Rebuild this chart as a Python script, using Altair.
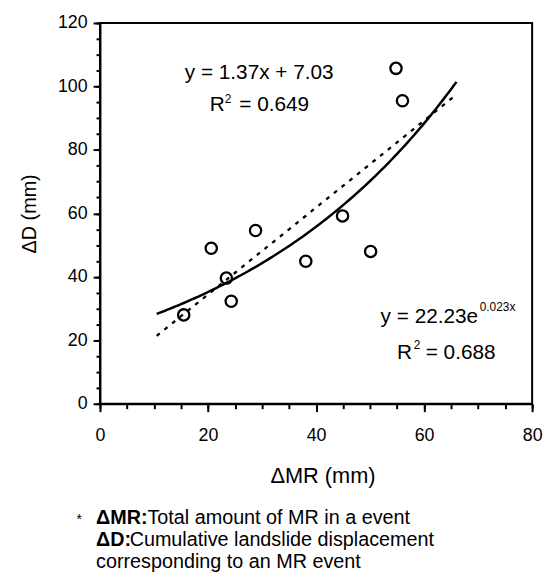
import altair as alt
import pandas as pd

# ---- data ----
MR = [15.5, 20.6, 23.4, 24.3, 28.8, 38.1, 44.9, 50.1, 54.8, 56.0]
D = [28.0, 49.0, 39.6, 32.3, 54.6, 44.9, 59.2, 48.0, 105.7, 95.5]

LIN_SLOPE, LIN_INTERCEPT = 1.37, 7.03
EXP_A, EXP_B = 22.23, 0.023
FIT_START, FIT_END = 10.5, 66.2

X_MAJOR = [0, 20, 40, 60, 80]
X_MINOR = list(range(0, 81, 5))
Y_MAJOR = [0, 20, 40, 60, 80, 100, 120]
Y_MINOR = list(range(0, 121, 5))

ANN_TEXT = ["y = 1.37x + 7.03", "R", "= 0.649", "R", "= 0.688"]
ANN_X = [15.7, 20.3, 25.8, 55.0, 60.3]
ANN_Y = [102.5, 92.2, 92.2, 14.0, 14.0]

EXP_EQ_TEXT = ["y = 22.23e"]
EXP_EQ_X = [70.0]
EXP_EQ_Y = [25.5]

SUP_TEXT = ["2", "0.023x", "2"]
SUP_X = [23.1, 70.3, 58.1]
SUP_Y = [94.9, 29.1, 17.1]

FOOT_BOLD = ["\u0394MR:", "\u0394D:"]
FOOT_BOLD_X = [-4, -4]
FOOT_BOLD_Y = [507, 529]
FOOT_TEXT = ["Total amount of MR in a event", "Cumulative landslide displacement",
             "corresponding to an MR event"]
FOOT_X = [48, 30, -4]
FOOT_Y = [507, 529, 551]

FONT = "Liberation Sans"

pts = pd.DataFrame({"MR": MR, "D": D})
ann = pd.DataFrame({"t": ANN_TEXT, "x": ANN_X, "y": ANN_Y})
eq = pd.DataFrame({"t": EXP_EQ_TEXT, "x": EXP_EQ_X, "y": EXP_EQ_Y})
sup = pd.DataFrame({"t": SUP_TEXT, "x": SUP_X, "y": SUP_Y})
fb = pd.DataFrame({"t": FOOT_BOLD, "x": FOOT_BOLD_X, "y": FOOT_BOLD_Y})
fn = pd.DataFrame({"t": FOOT_TEXT, "x": FOOT_X, "y": FOOT_Y})
star = pd.DataFrame({"t": ["*"], "x": [-21], "y": [507]})

xscale = alt.Scale(domain=[0, 80], nice=False, zero=False)
yscale = alt.Scale(domain=[0, 120], nice=False, zero=False)

common = dict(tickWidth=2, tickColor="black", domainColor="black", domainWidth=2,
              labelFont=FONT, labelFontSize=18, labelColor="black",
              labelFlush=False, labelOverlap=False, grid=False)

xaxis = alt.Axis(
    values=X_MAJOR, tickSize=8, labelPadding=15, orient="bottom",
    title="\u0394MR (mm)", titleFont=FONT, titleFontSize=22, titleFontWeight="normal",
    titleColor="black", titlePadding=22, titleX=225, **common,
)
yaxis = alt.Axis(
    values=Y_MAJOR, tickSize=7, labelPadding=6, orient="left",
    title="\u0394D (mm)", titleFont=FONT, titleFontSize=20, titleFontWeight="normal",
    titleColor="black", titlePadding=18, **common,
)
xminor = alt.Axis(values=X_MINOR, tickSize=5, labels=False, title=None, domain=False,
                  orient="bottom", tickWidth=2, tickColor="black", grid=False)
yminor = alt.Axis(values=Y_MINOR, tickSize=4, labels=False, title=None, domain=False,
                  orient="left", tickWidth=2, tickColor="black", grid=False)

minor = alt.Chart(pts).mark_point(opacity=0).encode(
    x=alt.X("MR:Q", scale=xscale, axis=xminor), y=alt.Y("D:Q", scale=yscale, axis=yminor)
)

base_pts = alt.Chart(pts).mark_point(
    shape="circle", filled=False, size=130, strokeWidth=2.3, color="black", opacity=1
).encode(x=alt.X("MR:Q", scale=xscale, axis=xaxis), y=alt.Y("D:Q", scale=yscale, axis=yaxis))

lin = alt.Chart(alt.sequence(FIT_START, FIT_END, 0.5, as_="x")).transform_calculate(
    y=f"{LIN_SLOPE} * datum.x + {LIN_INTERCEPT}"
).mark_line(color="black", strokeWidth=2.3, strokeDash=[4, 6]).encode(
    x=alt.X("x:Q", scale=xscale, axis=None), y=alt.Y("y:Q", scale=yscale, axis=None)
)

expo = alt.Chart(alt.sequence(FIT_START, FIT_END, 0.5, as_="x")).transform_calculate(
    y=f"{EXP_A} * exp({EXP_B} * datum.x)"
).mark_line(color="black", strokeWidth=2.5).encode(
    x=alt.X("x:Q", scale=xscale, axis=None), y=alt.Y("y:Q", scale=yscale, axis=None)
)

ann_l = alt.Chart(ann).mark_text(
    align="left", baseline="alphabetic", font=FONT, fontSize=21, color="black"
).encode(x=alt.X("x:Q", scale=xscale, axis=None), y=alt.Y("y:Q", scale=yscale, axis=None), text="t:N")

eq_l = alt.Chart(eq).mark_text(
    align="right", baseline="alphabetic", font=FONT, fontSize=21, color="black"
).encode(x=alt.X("x:Q", scale=xscale, axis=None), y=alt.Y("y:Q", scale=yscale, axis=None), text="t:N")

sup_l = alt.Chart(sup).mark_text(
    align="left", baseline="alphabetic", font=FONT, fontSize=12, color="black"
).encode(x=alt.X("x:Q", scale=xscale, axis=None), y=alt.Y("y:Q", scale=yscale, axis=None), text="t:N")

fb_l = alt.Chart(fb).mark_text(
    align="left", baseline="alphabetic", font=FONT, fontSize=20, fontWeight="bold", color="black"
).encode(x=alt.X("x:Q", scale=None, axis=None), y=alt.Y("y:Q", scale=None, axis=None), text="t:N")

fn_l = alt.Chart(fn).mark_text(
    align="left", baseline="alphabetic", font=FONT, fontSize=20, color="black"
).encode(x=alt.X("x:Q", scale=None, axis=None), y=alt.Y("y:Q", scale=None, axis=None), text="t:N")

star_l = alt.Chart(star).mark_text(
    align="center", baseline="alphabetic", font=FONT, fontSize=14, color="black"
).encode(x=alt.X("x:Q", scale=None, axis=None), y=alt.Y("y:Q", scale=None, axis=None), text="t:N")

chart = alt.layer(minor, expo, lin, base_pts, ann_l, eq_l, sup_l, fb_l, fn_l, star_l).resolve_axis(
    x="independent", y="independent"
).properties(
    width=437, height=385,
    autosize=alt.AutoSizeParams(type="none"),
    padding={"left": 93, "top": 12, "right": 12, "bottom": 168},
).configure_view(stroke="black", strokeWidth=2)

chart.save("out.html", embed_options={"renderer": "svg", "actions": False})
